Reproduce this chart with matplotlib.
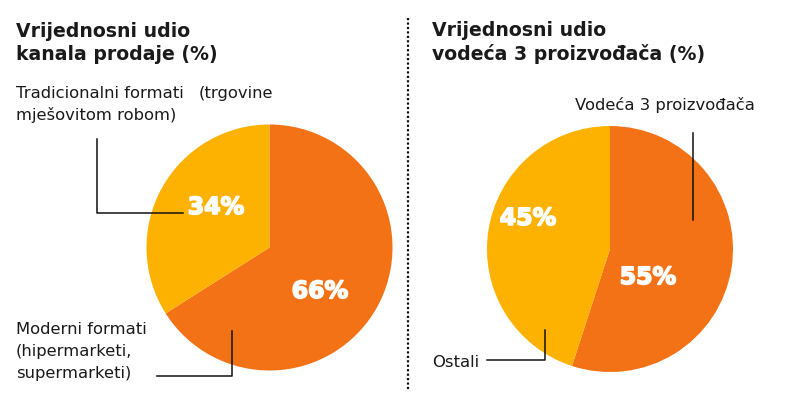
import matplotlib
matplotlib.use("Agg")
import matplotlib.pyplot as plt
import matplotlib.patheffects as pe
from matplotlib.lines import Line2D

# Data
left_labels = ["Moderni formati", "Tradicionalni formati"]
left_values = [66, 34]
right_labels = ["Vodeća 3 proizvođača", "Ostali"]
right_values = [55, 45]
colors = ["#F37215", "#FDB100"]

W, H = 786, 394
fig = plt.figure(figsize=(W / 100, H / 100), dpi=100)
ax = fig.add_axes([0, 0, 1, 1])

def Y(y):
    return H - y

FONT = ["DejaVu Sans"]

# Pies
ax.pie(left_values, colors=colors, startangle=90, counterclock=False,
       center=(269.5, Y(247.5)), radius=123, frame=True,
       wedgeprops=dict(linewidth=0))
ax.pie(right_values, colors=colors, startangle=90, counterclock=False,
       center=(610, Y(249)), radius=123, frame=True,
       wedgeprops=dict(linewidth=0))
ax.set_xlim(0, W)
ax.set_ylim(0, H)
ax.set_aspect("equal")
ax.axis("off")

# Percent labels
pct_kw = dict(color="white", fontsize=17, fontweight="bold", family=FONT,
              ha="center", va="center",
              path_effects=[pe.withStroke(linewidth=1.2, foreground="white")])
ax.text(216, Y(207), f"{left_values[1]}%", **pct_kw)
ax.text(320, Y(291), f"{left_values[0]}%", **pct_kw)
ax.text(528, Y(218), f"{right_values[1]}%", **pct_kw)
ax.text(648, Y(277), f"{right_values[0]}%", **pct_kw)

# Titles
title_kw = dict(color="#1a1a1a", fontsize=13.6, fontweight="bold", family=FONT,
                ha="left", va="baseline", linespacing=1.25)
ax.text(16, Y(60), "Vrijednosni udio\nkanala prodaje (%)", **title_kw)
ax.text(432, Y(60), "Vrijednosni udio\nvodeća 3 proizvođača (%)", **title_kw)

# Category labels
lab_kw = dict(color="#1a1a1a", fontsize=11.8, family=FONT, ha="left", va="baseline")
ax.text(16, Y(98), "Tradicionalni formati", **lab_kw)
ax.text(199, Y(98), "(trgovine", **lab_kw)
ax.text(16, Y(120), "mješovitom robom)", **lab_kw)
ax.text(16, Y(334), "Moderni formati", **lab_kw)
ax.text(16, Y(356), "(hipermarketi,", **lab_kw)
ax.text(16, Y(378), "supermarketi)", **lab_kw)
ax.text(575, Y(110), right_labels[0], **lab_kw)
ax.text(432, Y(367), right_labels[1], **lab_kw)

# Leader lines
lk = dict(color="#111111", linewidth=1.1)
ax.add_line(Line2D([97, 97, 183], [Y(139), Y(213), Y(213)], **lk))
ax.add_line(Line2D([157, 232, 232], [Y(376), Y(376), Y(331)], **lk))
ax.add_line(Line2D([693, 693], [Y(133), Y(220)], **lk))
ax.add_line(Line2D([487, 545, 545], [Y(360), Y(360), Y(330)], **lk))

# Dotted separator
ax.add_line(Line2D([408, 408], [Y(18), Y(390)], color="#111111",
                   linewidth=1.6, linestyle=(0, (1, 1))))

fig.savefig("out.png", dpi=100)
